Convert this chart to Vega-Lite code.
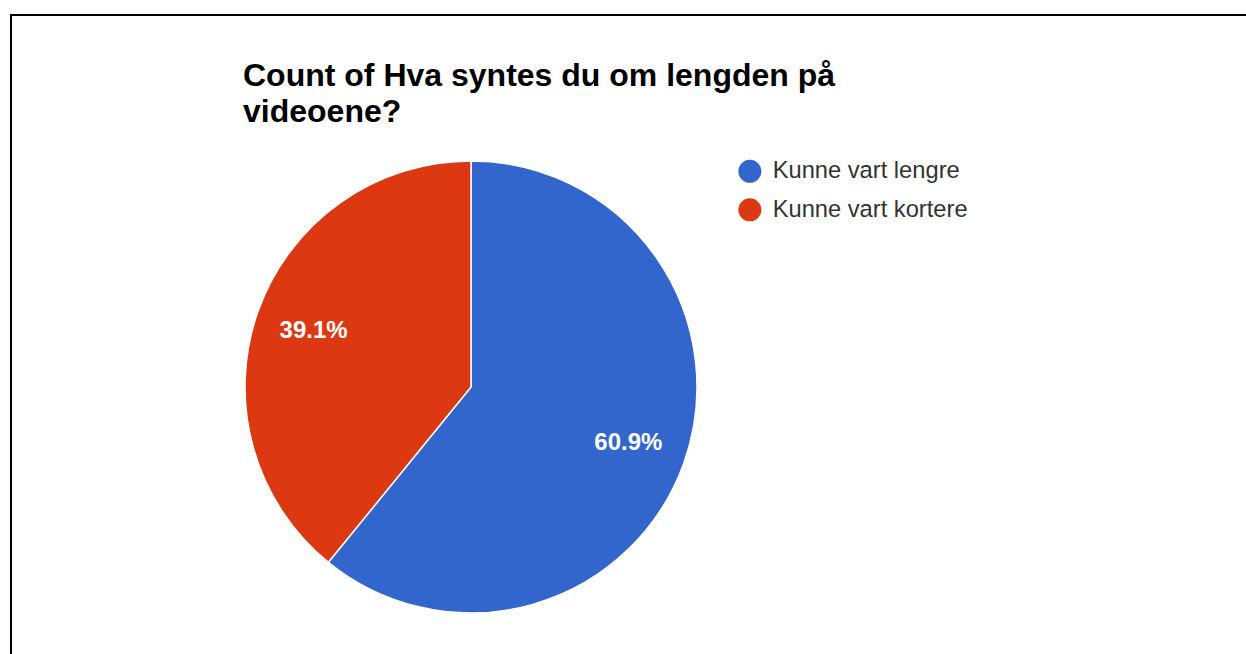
{
  "$schema": "https://vega.github.io/schema/vega-lite/v6.json",
  "autosize": "none",
  "padding": {"left": 11, "top": 15, "right": 0, "bottom": 0},
  "width": 1235,
  "height": 639,
  "background": "white",
  "view": {"stroke": "black", "strokeWidth": 2, "strokeDash": [1235, 1874, 639]},
  "title": {
    "text": ["Count of Hva syntes du om lengden på", "videoene?"],
    "anchor": "start",
    "frame": "group",
    "offset": -69,
    "dx": 232,
    "dy": 70,
    "baseline": "alphabetic",
    "font": "Liberation Sans",
    "fontSize": 32,
    "fontWeight": "bold",
    "color": "#000000",
    "lineHeight": 36
  },
  "data": {
    "values": [
      {"answer": "Kunne vart lengre", "count": 14, "share": 0.609},
      {"answer": "Kunne vart kortere", "count": 9, "share": 0.391}
    ]
  },
  "encoding": {
    "theta": {"field": "count", "type": "quantitative", "stack": true},
    "order": {"field": "count", "type": "quantitative", "sort": "descending"}
  },
  "layer": [
    {
      "mark": {"type": "arc", "radius": 226, "stroke": "white", "strokeWidth": 1.5, "xOffset": -157.5, "yOffset": 52.5},
      "encoding": {
        "color": {
          "field": "answer",
          "type": "nominal",
          "scale": {"domain": ["Kunne vart lengre", "Kunne vart kortere"], "range": ["#3366CC", "#DC3912"]},
          "legend": {
            "orient": "none",
            "legendX": 727,
            "legendY": 144.5,
            "title": null,
            "padding": 0,
            "symbolType": "circle",
            "symbolSize": 529,
            "symbolStrokeWidth": 0,
            "symbolOpacity": 1,
            "labelFont": "Liberation Sans",
            "labelFontSize": 23.7,
            "labelLimit": 500,
            "labelColor": "#333333",
            "labelOffset": 11,
            "rowPadding": 13.5
          }
        }
      }
    },
    {
      "mark": {"type": "text", "radius": 167, "xOffset": -157.5, "yOffset": 52.5, "font": "Liberation Sans", "fontSize": 24, "fontWeight": "bold", "align": "center", "baseline": "middle"},
      "encoding": {
        "detail": {"field": "answer", "type": "nominal"},
        "text": {"field": "share", "type": "quantitative", "format": ".1%"},
        "color": {"value": "white"}
      }
    }
  ]
}
